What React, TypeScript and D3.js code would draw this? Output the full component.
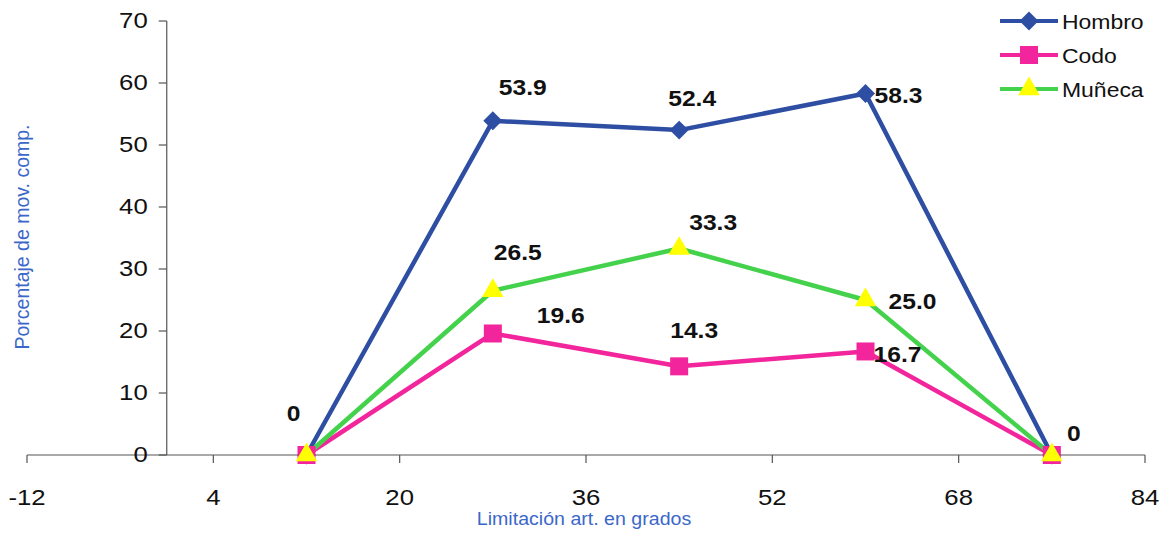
import React from 'react';
import * as d3 from 'd3';

// chart data
const grados = [12, 28, 44, 60, 76];
const hombro = [0, 53.9, 52.4, 58.3, 0];
const codo = [0, 19.6, 14.3, 16.7, 0];
const muneca = [0, 26.5, 33.3, 25.0, 0];
const xTicks = [-12, 4, 20, 36, 52, 68, 84];
const yTicks = [0, 10, 20, 30, 40, 50, 60, 70];
const seriesNames = ['Hombro', 'Codo', 'Muñeca'];

// label offsets (px) for each point, null = no label
const hombroLabels = [[-13, -42], [30, -33], [13, -32], [33, 2], [22, -22]];
const codoLabels = [null, [68, -18], [15, -36], [32, 3], null];
const munecaLabels = [null, [25, -38], [34, -26], [47, 1], null];

const W = 1167;
const H = 534;
const FONT = "'Liberation Sans', Arial, sans-serif";
const STRETCH = 1.12;

const series = [
  { name: seriesNames[0], values: hombro, labels: hombroLabels, line: '#2d4ea2', fill: '#2d4ea2', shape: 'diamond' },
  { name: seriesNames[1], values: codo, labels: codoLabels, line: '#f2259c', fill: '#f2259c', shape: 'square' },
  { name: seriesNames[2], values: muneca, labels: munecaLabels, line: '#44d24c', fill: '#ffff00', shape: 'triangle' },
];

const markerPath = (shape: string) => {
  if (shape === 'diamond') return d3.symbol(d3.symbolSquare, 180)()!;
  if (shape === 'square') return d3.symbol(d3.symbolSquare, 324)()!;
  return d3.symbol(d3.symbolTriangle, 200)()!;
};

const Marker = ({ x, y, s }: { x: number; y: number; s: any }) => (
  <path
    d={markerPath(s.shape)}
    transform={`translate(${x},${y})${s.shape === 'diamond' ? ' rotate(45)' : ''}`}
    fill={s.fill}
  />
);

const Txt = ({ x, y, size, children, anchor = 'middle', weight = 'normal', fill = '#111' }: any) => (
  <text
    transform={`translate(${x},${y}) scale(${STRETCH},1)`}
    textAnchor={anchor}
    dominantBaseline="central"
    fontSize={size}
    fontWeight={weight}
    fontFamily={FONT}
    fill={fill}
  >
    {children}
  </text>
);

export default function App() {
  const xScale = d3.scaleLinear().domain([-12, 84]).range([27, 1145]);
  const yScale = d3.scaleLinear().domain([0, 70]).range([455, 21]);
  const x0 = xScale(0);

  const line = d3
    .line<number>()
    .x((_, i) => xScale(grados[i]))
    .y((d) => yScale(d));

  return (
    <svg width={W} height={H} style={{ position: 'absolute', left: 0, top: 0, background: '#fff' }}>
      {/* x axis */}
      <line x1={xScale(-12)} x2={xScale(84)} y1={yScale(0)} y2={yScale(0)} stroke="#555" strokeWidth={1.2} />
      {xTicks.map((t) => (
        <g key={t}>
          <line x1={xScale(t)} x2={xScale(t)} y1={yScale(0)} y2={yScale(0) + 8} stroke="#555" strokeWidth={1.2} />
          <Txt x={xScale(t)} y={497} size={23}>{t}</Txt>
        </g>
      ))}
      {/* y axis */}
      <line x1={x0} x2={x0} y1={yScale(70)} y2={yScale(0)} stroke="#555" strokeWidth={1.2} />
      {yTicks.map((t) => (
        <g key={t}>
          <line x1={x0 - 8} x2={x0} y1={yScale(t)} y2={yScale(t)} stroke="#555" strokeWidth={1.2} />
          <Txt x={x0 - 19} y={yScale(t) - 1} size={23} anchor="end">{t}</Txt>
        </g>
      ))}
      <Txt x={584} y={519} size={17.5} fill="#3b67c9">Limitación art. en grados</Txt>
      <text
        transform={`translate(22,237) rotate(-90)`}
        textAnchor="middle"
        dominantBaseline="central"
        fontSize={19.5}
        fontFamily={FONT}
        fill="#3b67c9"
      >
        Porcentaje de mov. comp.
      </text>

      {/* lines */}
      {series.map((s) => (
        <path key={s.name} d={line(s.values)!} fill="none" stroke={s.line} strokeWidth={4.5} strokeLinejoin="round" />
      ))}
      {/* markers */}
      {series.map((s) =>
        s.values.map((v, i) => <Marker key={s.name + i} x={xScale(grados[i])} y={yScale(v)} s={s} />)
      )}
      {/* data labels */}
      {series.map((s) =>
        s.values.map((v, i) => {
          const off = s.labels[i];
          if (!off) return null;
          return (
            <Txt key={'l' + s.name + i} x={xScale(grados[i]) + off[0]} y={yScale(v) + off[1]} size={22} weight="bold">
              {v === 0 ? '0' : v.toFixed(1)}
            </Txt>
          );
        })
      )}

      {/* legend */}
      {series.map((s, i) => {
        const ly = 21 + i * 34;
        return (
          <g key={'lg' + s.name}>
            <line x1={1000} x2={1058} y1={ly} y2={ly} stroke={s.line} strokeWidth={4} />
            <Marker x={1029} y={ly} s={s} />
            <Txt x={1062} y={ly + 1} size={20.5} anchor="start">{s.name}</Txt>
          </g>
        );
      })}
    </svg>
  );
}
